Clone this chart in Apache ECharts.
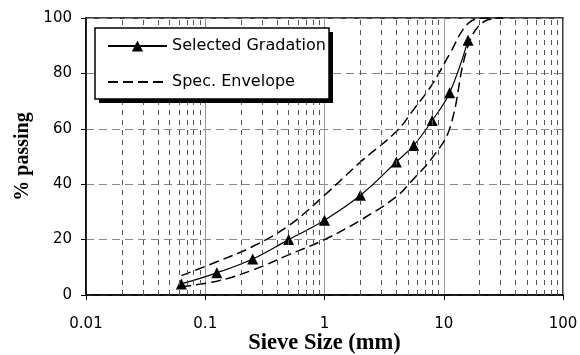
<!DOCTYPE html>
<html>
<head>
<meta charset="utf-8">
<script src="https://cdn.jsdelivr.net/npm/echarts@6/dist/echarts.min.js"></script>
<style>html,body{margin:0;padding:0;background:#fff;}#c{width:580px;height:355px;}</style>
</head>
<body>
<div id="c"></div>
<script>
// Data
const sieveSizes = [0.063, 0.125, 0.25, 0.5, 1, 2, 4, 5.6, 8, 11.2, 16];
const selectedGradation = [4, 8, 13, 20, 27, 36, 48, 54, 63, 73, 92];
const envSizes = [0.063, 0.125, 0.25, 0.5, 1, 2, 4, 5.6, 8, 11.2, 16, 22.4, 31.5];
const envUpper = [7, 12, 17.5, 25, 36, 48, 59, 67, 76, 87, 98, 100, 100];
const envLower = [3, 5, 9, 14.5, 20, 27, 35.5, 42, 49.5, 60, 90, 99, 100];
const xTickLabels = ['0.01', '0.1', '1', '10', '100'];
const xTickValues = [0.01, 0.1, 1, 10, 100];
const yTickValues = [0, 20, 40, 60, 80, 100];
const minorMultipliers = [2, 3, 4, 5, 6, 7, 8, 9];
const decades = [0.01, 0.1, 1, 10];
const minorGridValues = [];
decades.forEach(d => minorMultipliers.forEach(m => minorGridValues.push(+(d * m).toPrecision(3))));

const zip = (xs, ys) => xs.map((x, i) => [x, ys[i]]);

const chart = echarts.init(document.getElementById('c'));
chart.setOption({
  animation: false,
  grid: { left: 86, right: 17, top: 18, bottom: 60, show: true, borderColor: '#000', borderWidth: 1.5,
    backgroundColor: 'transparent', containLabel: false, outerBoundsMode: 'none' },
  graphic: [
    { type: 'rect', z: 50, silent: true, shape: { x: 99, y: 32, width: 234, height: 71 }, style: { fill: '#000' } },
    { type: 'rect', z: 51, silent: true, shape: { x: 95, y: 28, width: 234, height: 71 }, style: { fill: '#fff', stroke: '#000', lineWidth: 1.5 } }
  ],
  legend: {
    z: 60,
    orient: 'vertical', left: 95, top: 28,
    data: [
      'Selected Gradation',
      { name: 'Spec. Envelope', itemStyle: { color: 'rgba(0,0,0,0)', borderColor: 'rgba(0,0,0,0)', borderWidth: 0, opacity: 0 } }
    ],
    itemWidth: 59, itemHeight: 14, itemGap: 20,
    padding: [10, 5, 10, 12],
    backgroundColor: 'transparent', borderWidth: 0,
    textStyle: { fontFamily: 'DejaVu Sans', fontSize: 16, color: '#000' }
  },
  xAxis: {
    type: 'log', logBase: 10, min: 0.01, max: 100, interval: 1,
    name: 'Sieve Size (mm)', nameLocation: 'middle', nameGap: 37, nameMoveOverlap: false,
    nameTextStyle: { fontFamily: 'Liberation Serif', fontWeight: 'bold', fontSize: 22.5, color: '#000' },
    axisLine: { show: true, lineStyle: { color: '#000', width: 1.5 } },
    axisTick: { show: true, inside: false, length: 5, lineStyle: { color: '#000' } },
    axisLabel: { fontFamily: 'DejaVu Sans', fontSize: 15, color: '#000', margin: 22,
      formatter: v => { const i = xTickValues.findIndex(t => Math.abs(Math.log10(t) - Math.log10(v)) < 1e-6); return i >= 0 ? xTickLabels[i] : ''; } },
    splitLine: { show: true, lineStyle: { color: '#999', width: 1, type: 'solid' } }
  },
  yAxis: {
    type: 'value', min: 0, max: 100, interval: 20,
    name: '% passing', nameLocation: 'middle', nameGap: 53, nameRotate: 90, nameMoveOverlap: false,
    nameTextStyle: { fontFamily: 'Liberation Serif', fontWeight: 'bold', fontSize: 20, color: '#000' },
    axisLine: { show: true, lineStyle: { color: '#000', width: 1.5 } },
    axisTick: { show: true, inside: false, length: 5, lineStyle: { color: '#000' } },
    axisLabel: { fontFamily: 'DejaVu Sans', fontSize: 15, color: '#000', margin: 14,
      formatter: v => yTickValues.includes(v) ? String(v) : '' },
    splitLine: { show: true, lineStyle: { color: '#888', width: 1, type: [8, 5] } }
  },
  series: [
    {
      name: 'minor-grid', type: 'line', data: [], silent: true, z: 1,
      markLine: {
        silent: true, symbol: ['none', 'none'], label: { show: false },
        lineStyle: { color: '#555', width: 1, type: [5, 5] },
        emphasis: { disabled: true },
        data: minorGridValues.map(v => ({ xAxis: v }))
      }
    },
    {
      name: 'Spec. Envelope', type: 'line', data: zip(envSizes, envUpper), z: 3,
      symbol: 'circle', showSymbol: false, smooth: 0.4,
      lineStyle: { color: '#000', width: 1.5, type: [10, 5] }, itemStyle: { color: '#000' }
    },
    {
      name: 'Spec. Envelope', type: 'line', data: zip(envSizes, envLower), z: 3,
      symbol: 'circle', showSymbol: false, smooth: 0.4,
      lineStyle: { color: '#000', width: 1.5, type: [10, 5] }, itemStyle: { color: '#000' }
    },
    {
      name: 'Selected Gradation', type: 'line', data: zip(sieveSizes, selectedGradation), z: 4,
      symbol: 'triangle', symbolSize: 11, smooth: 0.4,
      lineStyle: { color: '#000', width: 1.2 }, itemStyle: { color: '#000' }
    }
  ]
});
</script>
</body>
</html>
